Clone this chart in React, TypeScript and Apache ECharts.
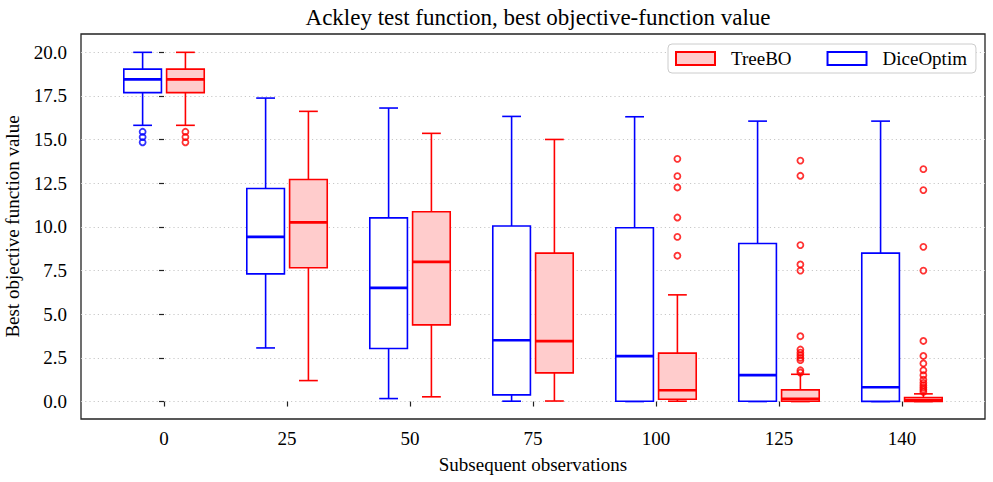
import React, { useEffect, useRef } from "react";
import * as echarts from "echarts";

const categories = ["0", "25", "50", "75", "100", "125", "140"];
const yTicks = [0, 2.5, 5, 7.5, 10, 12.5, 15, 17.5, 20];

// [min whisker, q1, median, q3, max whisker] per category
const diceStats = [
  [15.82, 17.69, 18.45, 19.04, 20.0],
  [3.07, 7.31, 9.43, 12.2, 17.38],
  [0.17, 3.04, 6.51, 10.52, 16.81],
  [0.02, 0.38, 3.51, 10.05, 16.33],
  [0.0, 0.02, 2.6, 9.95, 16.31],
  [0.0, 0.02, 1.51, 9.05, 16.06],
  [0.0, 0.01, 0.82, 8.5, 16.06],
];
const treeStats = [
  [15.82, 17.69, 18.45, 19.04, 20.0],
  [1.2, 7.66, 10.26, 12.72, 16.62],
  [0.27, 4.39, 8.0, 10.87, 15.36],
  [0.03, 1.64, 3.46, 8.5, 15.01],
  [0.02, 0.13, 0.65, 2.77, 6.11],
  [0.0, 0.02, 0.15, 0.67, 1.56],
  [0.0, 0.0, 0.08, 0.23, 0.44],
];
const diceOutliers = [[15.45, 15.15, 14.85], [], [], [], [], [], []];
const treeOutliers = [
  [15.45, 15.15, 14.85],
  [],
  [],
  [],
  [13.9, 12.91, 12.26, 10.54, 9.43, 8.35],
  [13.8, 12.93, 8.96, 7.85, 7.5, 3.74, 2.98, 2.8, 2.65, 2.5, 2.37, 1.79, 1.66],
  [13.31, 12.11, 8.86, 7.5, 3.47, 2.61, 2.18, 1.79, 1.51, 1.25, 1.07, 0.93, 0.8, 0.68, 0.55],
];

const FONT = "'Liberation Serif', 'Times New Roman', serif";
const BLUE = "#0000ff";
const RED = "#ff0000";
const OFFSET = 0.174;
const BOX_W = 0.306;

function boxRenderer(offset: number, stroke: string, fill: string) {
  return (params: any, api: any) => {
    const x = (api.value(0) as number) + offset;
    const vals = [1, 2, 3, 4, 5].map((d) => api.value(d) as number);
    const cx = api.coord([x, 0])[0];
    const left = api.coord([x - BOX_W / 2, 0])[0];
    const right = api.coord([x + BOX_W / 2, 0])[0];
    const cap = (right - left) / 4;
    const [yMin, yQ1, yMed, yQ3, yMax] = vals.map((v) => api.coord([x, v])[1]);
    const ls = { stroke, lineWidth: 1.6, fill: "none" };
    return {
      type: "group",
      children: [
        { type: "line", shape: { x1: cx, y1: yQ3, x2: cx, y2: yMax }, style: ls },
        { type: "line", shape: { x1: cx - cap, y1: yMax, x2: cx + cap, y2: yMax }, style: ls },
        { type: "line", shape: { x1: cx, y1: yQ1, x2: cx, y2: yMin }, style: ls },
        { type: "line", shape: { x1: cx - cap, y1: yMin, x2: cx + cap, y2: yMin }, style: ls },
        {
          type: "rect",
          shape: { x: left, y: yQ3, width: right - left, height: yQ1 - yQ3 },
          style: { fill, stroke, lineWidth: 1.6 },
        },
        { type: "line", shape: { x1: left, y1: yMed, x2: right, y2: yMed }, style: { stroke, lineWidth: 2.6 } },
      ],
    };
  };
}

function outlierData(list: number[][], offset: number) {
  const out: number[][] = [];
  list.forEach((vals, i) => vals.forEach((v) => out.push([i + offset, v])));
  return out;
}

export default function App() {
  const ref = useRef<HTMLDivElement>(null);
  useEffect(() => {
    if (!ref.current) return;
    const chart = echarts.init(ref.current, null, { renderer: "svg" });
    chart.setOption({
      animation: false,
      title: {
        text: "Ackley test function, best objective-function value",
        left: 533,
        textAlign: "center",
        top: 1,
        textStyle: { fontFamily: FONT, fontSize: 23, fontWeight: "normal", color: "#000" },
      },
      legend: {
        left: 668,
        top: 44,
        orient: "horizontal",
        itemWidth: 39,
        itemHeight: 13,
        itemGap: 35,
        padding: [5, 9, 5, 7],
        backgroundColor: "#fff",
        borderColor: "#cccccc",
        borderWidth: 1,
        borderRadius: 4,
        textStyle: { fontFamily: FONT, fontSize: 19, color: "#000", padding: [0, 0, 0, 11] },
        data: [
          { name: "TreeBO", icon: "rect", itemStyle: { color: "#ffcccc", borderColor: RED, borderWidth: 2 } },
          { name: "DiceOptim", icon: "rect", itemStyle: { color: "#ffffff", borderColor: BLUE, borderWidth: 2 } },
        ],
      },
      grid: {
        left: 81,
        right: 8,
        top: 34,
        bottom: 63,
        outerBoundsMode: "none",
        containLabel: false,
        show: true,
        borderColor: "#222",
        borderWidth: 1.3,
        backgroundColor: "transparent",
      },
      xAxis: {
        type: "value",
        min: -0.675,
        max: 6.675,
        name: "Subsequent observations",
        nameLocation: "middle",
        nameGap: 36,
        nameTextStyle: { fontFamily: FONT, fontSize: 19, color: "#000" },
        axisLine: { show: false },
        splitLine: { show: false },
        axisTick: {
          show: true,
          length: 5,
          lineStyle: { color: "#222", width: 1.2 },
          customValues: categories.map((_, i) => i),
        },
        axisLabel: {
          fontFamily: FONT,
          fontSize: 19,
          color: "#000",
          margin: 10,
          customValues: categories.map((_, i) => i),
          formatter: (v: number) => categories[Math.round(v)] ?? "",
        },
      },
      yAxis: {
        type: "value",
        min: -1.0,
        max: 21.05,
        name: "Best objective function value",
        nameLocation: "middle",
        nameGap: 59,
        nameTextStyle: { fontFamily: FONT, fontSize: 19, color: "#000" },
        axisLine: { show: false },
        splitLine: { show: false },
        axisTick: {
          show: true,
          length: 5,
          lineStyle: { color: "#222", width: 1.2 },
          customValues: yTicks,
        },
        axisLabel: {
          fontFamily: FONT,
          fontSize: 19,
          color: "#000",
          margin: 14,
          customValues: yTicks,
          formatter: (v: number) => v.toFixed(1),
        },
      },
      series: [
        {
          name: "grid",
          type: "scatter",
          data: [],
          z: 0,
          silent: true,
          markLine: {
            silent: true,
            symbol: "none",
            z: 0,
            label: { show: false },
            lineStyle: { color: "#c8c8c8", type: [1.2, 3], width: 1 },
            data: yTicks.map((v) => ({ yAxis: v })),
          },
        },
        {
          name: "DiceOptim",
          type: "custom",
          z: 10,
          renderItem: boxRenderer(-OFFSET, BLUE, "#ffffff"),
          encode: { x: 0, y: [1, 5] },
          data: diceStats.map((s, i) => [i, ...s]),
        },
        {
          name: "TreeBO",
          type: "custom",
          z: 10,
          renderItem: boxRenderer(OFFSET, RED, "#ffcccc"),
          encode: { x: 0, y: [1, 5] },
          data: treeStats.map((s, i) => [i, ...s]),
        },
        {
          name: "DiceOptim outliers",
          type: "scatter",
          z: 11,
          symbol: "circle",
          symbolSize: 6,
          itemStyle: { color: "transparent", borderColor: BLUE, borderWidth: 1.8 },
          data: outlierData(diceOutliers, -OFFSET),
        },
        {
          name: "TreeBO outliers",
          type: "scatter",
          z: 11,
          symbol: "circle",
          symbolSize: 6,
          itemStyle: { color: "transparent", borderColor: RED, borderWidth: 1.8 },
          data: outlierData(treeOutliers, OFFSET),
        },
      ],
    });
    return () => chart.dispose();
  }, []);
  return <div ref={ref} style={{ width: 993, height: 482, position: "absolute", left: 0, top: 0 }} />;
}
